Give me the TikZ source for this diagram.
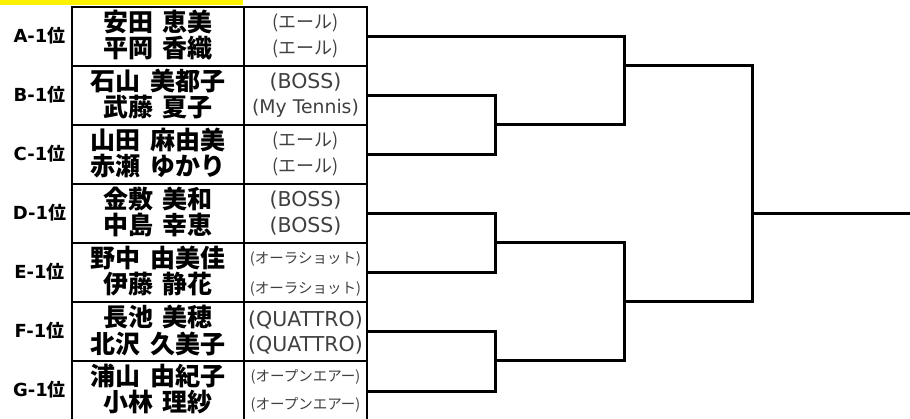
\documentclass[tikz,border=0pt]{standalone}
\usepackage{fontspec}
\newfontfamily\jp{Noto Sans CJK JP}
\newfontfamily\dv{DejaVu Sans}
\newcommand\nsp{\hspace{0.4em}}
\begin{document}
\begin{tikzpicture}[x=1pt,y=-1pt,
  tbl/.style={line width=2pt},
  br/.style={line width=3pt},
  lbl/.style={inner sep=0pt,font={\fontsize{18}{18}\selectfont\bfseries}},
  nm/.style={inner sep=0pt,font={\jp\bfseries\fontsize{25}{25}\selectfont}},
  tmj/.style={inner sep=0pt,text=black!75,font={\jp\fontsize{#1}{#1}\selectfont}},
  tmj/.default=18,
  tml/.style={inner sep=0pt,text=black!75,font={\dv\fontsize{#1}{#1}\selectfont}},
  tml/.default=20.5]
\useasboundingbox (0,0) rectangle (910,419);
\clip (0,0) rectangle (910,419);
% yellow bar
\fill[yellow] (0,0) rectangle (243,5);
% table
\draw[tbl] (72,7.5) rectangle (367,430);
\draw[tbl] (244,7.5) -- (244,430);
\foreach \i in {1,...,6} \draw[tbl] (72,7.5+59*\i) -- (367,7.5+59*\i);
% row labels
\foreach \l [count=\i from 0] in {A,B,C,D,E,F,G}
  \node[lbl] (lab\l) at (39.5,35.5+59*\i) {{\dv\bfseries \l-1}{\jp\bfseries 位}};
% names
\node[nm] (nA1) at (158,22) {安田\nsp 恵美};
\node[nm] (nA2) at (158,48) {平岡\nsp 香織};
\node[nm] (nB1) at (158,81) {石山\nsp 美都子};
\node[nm] (nB2) at (158,107) {武藤\nsp 夏子};
\node[nm] (nC1) at (158,140) {山田\nsp 麻由美};
\node[nm] (nC2) at (158,166) {赤瀬\nsp ゆかり};
\node[nm] (nD1) at (158,199) {金敷\nsp 美和};
\node[nm] (nD2) at (158,225) {中島\nsp 幸恵};
\node[nm] (nE1) at (158,258) {野中\nsp 由美佳};
\node[nm] (nE2) at (158,284) {伊藤\nsp 静花};
\node[nm] (nF1) at (158,317) {長池\nsp 美穂};
\node[nm] (nF2) at (158,344) {北沢\nsp 久美子};
\node[nm] (nG1) at (158,376) {浦山\nsp 由紀子};
\node[nm] (nG2) at (158,402) {小林\nsp 理紗};
% teams
\node[tmj] (tA1) at (305.5,23) {(エール)};
\node[tmj] (tA2) at (305.5,49) {(エール)};
\node[tml] (tB1) at (305.5,82) {(BOSS)};
\node[tml=18.8] (tB2) at (305.5,108) {(My Tennis)};
\node[tmj] (tC1) at (305.5,141) {(エール)};
\node[tmj] (tC2) at (305.5,167) {(エール)};
\node[tml] (tD1) at (305.5,200) {(BOSS)};
\node[tml] (tD2) at (305.5,226) {(BOSS)};
\node[tmj=14.5] (tE1) at (305.5,259) {(オーラショット)};
\node[tmj=14.5] (tE2) at (305.5,289) {(オーラショット)};
\node[tml] (tF1) at (305.5,320) {(QUATTRO)};
\node[tml] (tF2) at (305.5,345) {(QUATTRO)};
\node[tmj=14.5] (tG1) at (305.5,377) {(オープンエアー)};
\node[tmj=14.5] (tG2) at (305.5,405) {(オープンエアー)};
% bracket
\foreach \l [count=\i from 0] in {A,B,C,D,E,F,G}
  \coordinate (p\l) at (367,37+59*\i);
\coordinate (mBC) at (495,125);
\coordinate (mDE) at (495,243);
\coordinate (mFG) at (495,361);
\coordinate (mABC) at (624,66);
\coordinate (mDEFG) at (624,302);
\coordinate (mFin) at (752.7,213.3);
\coordinate (win) at (910,213.3);
\draw[br] (pB) -| (mBC) |- (pC);
\draw[br] (pD) -| (mDE) |- (pE);
\draw[br] (pF) -| (mFG) |- (pG);
\draw[br] (pA) -| (mABC) |- (mBC);
\draw[br] (mDE) -| (mDEFG) |- (mFG);
\draw[br] (mABC) -| (mFin) |- (mDEFG);
\draw[br] (mFin) -- (win);
\end{tikzpicture}
\end{document}
